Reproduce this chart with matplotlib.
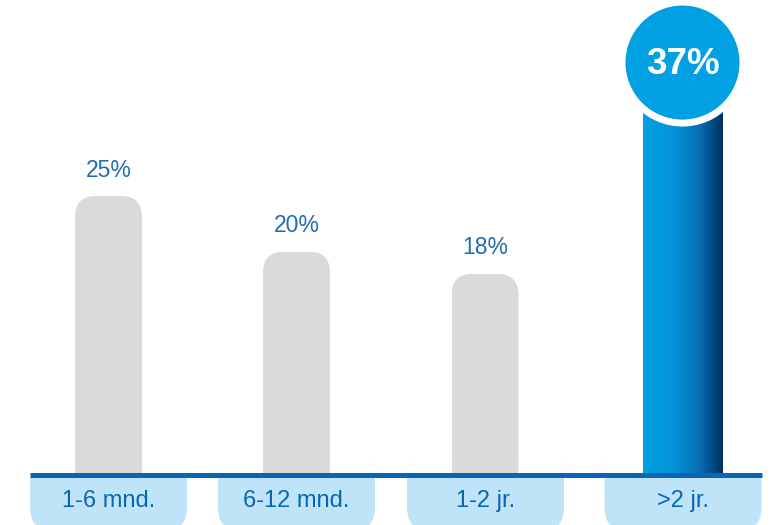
import numpy as np
import matplotlib
matplotlib.use('Agg')
import matplotlib.pyplot as plt
from matplotlib.patches import FancyBboxPatch, Rectangle, Ellipse
from matplotlib.colors import LinearSegmentedColormap

plt.rcParams['font.family'] = ['Liberation Sans', 'DejaVu Sans']

# Data
categories = ['1-6 mnd.', '6-12 mnd.', '1-2 jr.', '>2 jr.']
values = [25, 20, 18, 37]
value_labels = ['25%', '20%', '18%', '37%']

# Layout (pixel based, 781x525 canvas)
W, H = 781, 525
PX_PER_UNIT = 11.12          # vertical pixels per percentage point
BASE_PX = 474                # baseline row in pixels
xpos = [108.5, 296.5, 485, 682.5]
bar_w = [67, 67, 67, 80]
box_w = 157

GRAY = '#d9dadb'
BLUE_TXT = '#1f6db4'
LINE = '#0a66b3'
BOX = '#bfe4f8'
CIRCLE = '#00a0e3'

u = 1.0 / PX_PER_UNIT        # one pixel in y data units

fig = plt.figure(figsize=(W / 100, H / 100), dpi=100)
ax = fig.add_axes([0, 0, 1, 1])
ax.set_axis_off()

# gray bars with rounded tops
bars = ax.bar(xpos[:3], values[:3], width=bar_w[0], color=GRAY, zorder=2)
for b in bars:
    x0, w, h = b.get_x(), b.get_width(), b.get_height()
    clip = FancyBboxPatch((x0, -40 * u), w, h + 40 * u,
                          boxstyle='round,pad=0,rounding_size=21',
                          mutation_aspect=u, transform=ax.transData)
    b.set_clip_path(clip)

# highlighted bar with horizontal gradient
hb = ax.bar(xpos[3], values[3], width=bar_w[3], color='none', zorder=2)[0]
cmap = LinearSegmentedColormap.from_list(
    'hl', [(0, '#00a0e3'), (0.4, '#0592d8'), (0.7, '#0670b4'), (1, '#002f5f')])
grad = np.linspace(0, 1, 256).reshape(1, -1)
im = ax.imshow(grad, cmap=cmap, aspect='auto', zorder=2,
               extent=[hb.get_x(), hb.get_x() + hb.get_width(), 0, values[3]])
im.set_clip_path(hb)

# circle badge on top of highlighted bar
r_px = 60.5
ax.add_patch(Ellipse((xpos[3], values[3]), 2 * r_px, 2 * r_px * u,
                     facecolor=CIRCLE, edgecolor='white', lw=5, zorder=4))
ax.text(xpos[3], values[3] - 2 * u, value_labels[3], color='white',
        fontsize=26.5, fontweight='bold', ha='center', va='center', zorder=5)

# value labels above gray bars
for x, v, lab in zip(xpos[:3], values[:3], value_labels[:3]):
    ax.text(x, v + 26 * u, lab, color=BLUE_TXT, fontsize=16.5,
            ha='center', va='center', zorder=5)

# label boxes below the baseline (rounded bottom corners only)
box_clip = Rectangle((0, -70 * u), W, 67 * u, transform=ax.transData)
box_cx = [108.5, 296.5, 485.5, 683]
for cx, cat in zip(box_cx, categories):
    bx = FancyBboxPatch((cx - box_w / 2, -58 * u), box_w, 85 * u,
                        boxstyle='round,pad=0,rounding_size=25',
                        mutation_aspect=u, facecolor=BOX, edgecolor='none',
                        zorder=3)
    ax.add_patch(bx)
    bx.set_clip_path(box_clip)
    ax.text(cx, -27 * u, cat, color=LINE, fontsize=17,
            ha='center', va='center', zorder=5)

# baseline
ax.plot([30, 762], [-0.5 * u, -0.5 * u], color=LINE, lw=3.6,
        solid_capstyle='butt', zorder=4)

ax.set_xlim(0, W)
ax.set_ylim(-(H - BASE_PX) * u, BASE_PX * u)

fig.savefig('out.png', dpi=100, facecolor='white')
